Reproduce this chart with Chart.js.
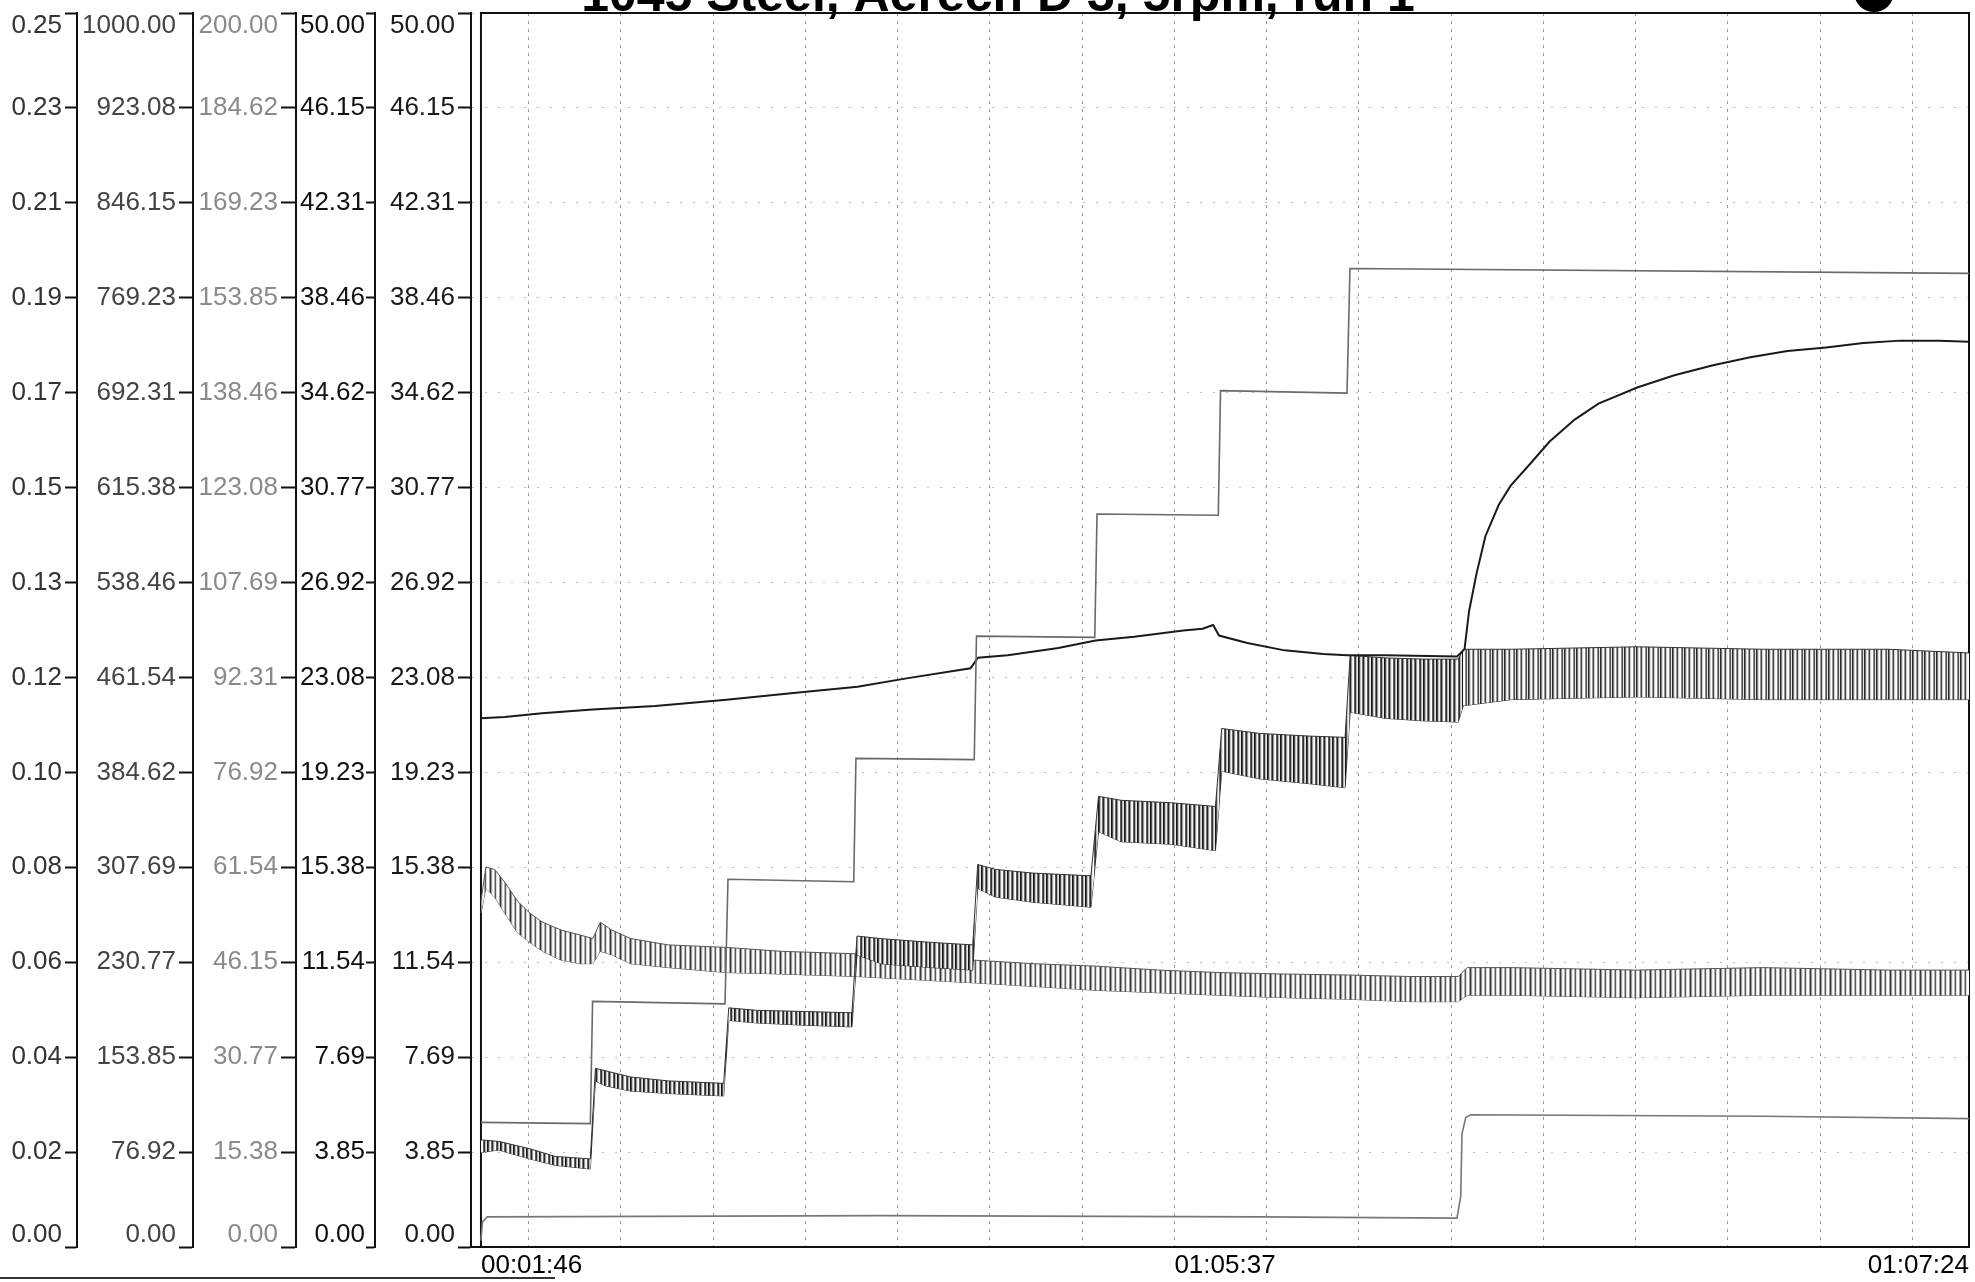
<!DOCTYPE html>
<html>
<head>
<meta charset="utf-8">
<title>1045 Steel, run 1</title>
<script src="https://cdn.jsdelivr.net/npm/chart.js"></script>
<style>
  body { margin: 0; background: #fff; overflow: hidden; }
  #wrap { position: relative; width: 1975px; height: 1282px; overflow: hidden; background: #fff; }
  #chart { position: absolute; left: -20px; top: 0; }
</style>
</head>
<body>
<div id="wrap"><canvas id="chart"></canvas></div>
<script>
const CHART = document.getElementById('chart');
CHART.width = 1995;
CHART.height = 1282;

// tick labels of the five stacked y axes (outermost first)
const muLabels    = ['0.00','0.02','0.04','0.06','0.08','0.10','0.12','0.13','0.15','0.17','0.19','0.21','0.23','0.25'];
const loadLabels  = ['0.00','76.92','153.85','230.77','307.69','384.62','461.54','538.46','615.38','692.31','769.23','846.15','923.08','1000.00'];
const tempLabels  = ['0.00','15.38','30.77','46.15','61.54','76.92','92.31','107.69','123.08','138.46','153.85','169.23','184.62','200.00'];
const forceLabels = ['0.00','3.85','7.69','11.54','15.38','19.23','23.08','26.92','30.77','34.62','38.46','42.31','46.15','50.00'];
const speedLabels = ['0.00','3.85','7.69','11.54','15.38','19.23','23.08','26.92','30.77','34.62','38.46','42.31','46.15','50.00'];

// time axis (sample index 0..1000)
const timeTicks  = [0, 500, 1000];
const timeLabels = ['00:01:46', '01:05:37', '01:07:24'];
const gridX = [32, 94, 156, 218, 280, 342, 404, 466, 528, 590, 652, 714, 776, 838, 900, 962];

// normal load, stepped
const loadX = [0, 73.5, 75, 164, 166, 250.5, 252, 331.5, 333, 412.5, 414, 495.5, 497, 582, 584, 1000];
const loadY = [101, 100, 199, 197, 298, 296, 396, 395, 495, 494, 594, 593, 694, 692, 793, 789];

// temperature
const tempX = [0, 16, 41, 75, 117, 165, 210, 253, 287, 329, 334, 354, 388, 413, 439, 472, 485, 492, 496, 515,
               540, 566, 582, 608, 656, 661, 664, 669, 675, 684, 692, 705, 718, 735, 751, 777, 802, 828, 853, 878,
               904, 929, 954, 980, 1000];
const tempY = [85.7, 85.9, 86.5, 87.1, 87.7, 88.7, 89.8, 90.8, 92.2, 93.8, 95.5, 95.9, 97.1, 98.3, 98.9, 99.9, 100.2, 100.8, 99.1, 97.9,
               96.7, 96.1, 95.9, 95.9, 95.7, 96.9, 103.0, 109.1, 115.2, 120.3, 123.4, 126.9, 130.5, 134.1, 136.7, 139.3, 141.3, 142.9, 144.2, 145.2,
               145.8, 146.5, 146.9, 146.9, 146.7];

// friction force, upper / lower envelope of the oscillation
const forceX  = [0, 11.8, 32.9, 49.8, 73.5, 76.9, 83.6, 100.5, 125.9, 163.1, 166.5, 185.1, 218.9, 249.3, 252.7, 269.6, 303.4, 330.5, 333.8, 345.7,
                 371, 409.9, 415, 430.2, 464, 493.6, 497.8, 523.2, 557, 580.7, 584.1, 607.7, 633.1, 656.8, 660.1, 692.3, 776.8, 861.3, 945.9, 1000];
const forceHi = [4.34, 4.28, 3.98, 3.67, 3.57, 7.24, 7.14, 6.89, 6.73, 6.63, 9.69, 9.59, 9.54, 9.49, 12.60, 12.49, 12.34, 12.24, 15.50, 15.30,
                 15.15, 15.04, 18.26, 18.10, 18.00, 17.85, 21.01, 20.81, 20.70, 20.65, 23.97, 23.87, 23.82, 23.82, 24.22, 24.22, 24.32, 24.22, 24.22, 24.07];
const forceLo = [3.83, 3.93, 3.57, 3.31, 3.16, 6.73, 6.53, 6.32, 6.22, 6.12, 9.18, 9.08, 8.98, 8.92, 11.83, 11.47, 11.32, 11.22, 14.53, 14.18,
                 13.97, 13.77, 16.83, 16.42, 16.32, 16.06, 19.28, 18.97, 18.77, 18.61, 21.67, 21.42, 21.32, 21.27, 21.93, 22.18, 22.29, 22.18, 22.18, 22.18];

// friction coefficient, upper / lower envelope
const muX  = [0, 3.3, 9.2, 16, 24.5, 32.9, 41.4, 54, 66.7, 75.2, 80.2, 87.9, 100.5, 125.9, 164.8, 202, 252.7, 295, 332.2, 371,
              413.3, 455.6, 496.1, 540.1, 582.4, 624.6, 656.8, 662.7, 692.3, 776.8, 861.3, 945.9, 1000];
const muHi = [0.0701, 0.0770, 0.0765, 0.0739, 0.0701, 0.0676, 0.0658, 0.0642, 0.0632, 0.0625, 0.0658, 0.0642, 0.0625, 0.0612, 0.0607, 0.0599, 0.0594, 0.0586, 0.0581, 0.0574,
              0.0569, 0.0561, 0.0556, 0.0553, 0.0551, 0.0548, 0.0548, 0.0566, 0.0566, 0.0561, 0.0566, 0.0561, 0.0561];
const muLo = [0.0676, 0.0727, 0.0709, 0.0676, 0.0637, 0.0617, 0.0599, 0.0581, 0.0574, 0.0574, 0.0599, 0.0592, 0.0574, 0.0566, 0.0556, 0.0553, 0.0548, 0.0541, 0.0535, 0.0528,
              0.0520, 0.0515, 0.0510, 0.0505, 0.0502, 0.0497, 0.0497, 0.0510, 0.0510, 0.0505, 0.0510, 0.0510, 0.0510];

// rotation speed
const speedX = [0, 1, 4.2, 269.6, 523.2, 655.9, 658.4, 659.3, 661.8, 665.2, 861.3, 1000];
const speedY = [0.26, 1.02, 1.22, 1.27, 1.22, 1.17, 2.04, 4.59, 5.25, 5.36, 5.30, 5.20];

const FONT = "'Liberation Sans', Arial, sans-serif";
Chart.defaults.font.family = FONT;

function pts(xs, ys) {
  return xs.map((x, i) => ({ x: x, y: ys[i] }));
}

// vertical hatch used to fill the oscillating traces
function stripes(shades) {
  const tile = document.createElement('canvas');
  tile.width = shades.length;
  tile.height = 1;
  const t = tile.getContext('2d');
  shades.forEach((s, i) => { t.fillStyle = s; t.fillRect(i, 0, 1, 1); });
  return CHART.getContext('2d').createPattern(tile, 'repeat');
}

// end labels sit inside the axis, like the bracketed ends of the printout
function endLabel(labels, i) {
  if (i === labels.length - 1) return ['', labels[i]];
  if (i === 0) return [labels[i], ''];
  return labels[i];
}

function yAxis(labels, max, width, weight, color, tick, pad, grid) {
  return {
    type: 'linear',
    position: 'left',
    min: 0,
    max: max,
    weight: weight,
    afterBuildTicks: s => {
      s.ticks = labels.map((_, i) => ({ value: max * i / (labels.length - 1) }));
    },
    afterFit: s => {
      s.width = width;
      s.paddingTop = 0;
      s.paddingBottom = 0;
    },
    ticks: {
      autoSkip: false,
      padding: pad,
      color: color,
      font: { size: 26, lineHeight: 0.95 },
      callback: (v, i) => endLabel(labels, i)
    },
    grid: {
      drawOnChartArea: grid,
      color: '#bdbdbd',
      lineWidth: 1,
      tickColor: '#111',
      tickWidth: 2,
      tickLength: tick,
      tickBorderDash: []
    },
    border: { display: true, color: '#111', width: 2, dash: [2, 11] }
  };
}

const frame = {
  id: 'frame',
  beforeDatasetsDraw(chart) {
    const { ctx, chartArea: a, scales } = chart;
    const x0 = scales.x.getPixelForValue(0);
    ctx.save();
    ctx.strokeStyle = '#111';
    ctx.lineWidth = 2;
    ctx.beginPath();
    ctx.moveTo(x0, a.bottom);
    ctx.lineTo(x0, a.top);
    ctx.lineTo(a.right, a.top);
    ctx.lineTo(a.right, a.bottom);
    ctx.stroke();
    ctx.restore();
  },
  afterDraw(chart) {
    const ctx = chart.ctx;
    ctx.save();
    // header, printed partly off the top of the sheet
    ctx.fillStyle = '#000';
    ctx.font = 'bold 50px ' + FONT;
    ctx.textAlign = 'center';
    ctx.textBaseline = 'alphabetic';
    ctx.fillText('1045 Steel, Aerech D 3, 5rpm, run 1', 1018, 11);
    ctx.beginPath();
    ctx.arc(1894, -8, 20, 0, Math.PI * 2);
    ctx.fill();
    // rule under the axis block
    ctx.strokeStyle = '#333';
    ctx.lineWidth = 2;
    ctx.beginPath();
    ctx.moveTo(20, 1278);
    ctx.lineTo(575, 1278);
    ctx.stroke();
    ctx.restore();
  }
};

const heavy = stripes(['#151515', '#4a4a4a', '#c4c4c4', '#f2f2f2', '#6e6e6e', '#262626', '#9a9a9a', '#ececec', '#ffffff', '#5c5c5c', '#303030', '#b6b6b6', '#e6e6e6']);
const medium = stripes(['#2a2a2a', '#7a7a7a', '#dddddd', '#ffffff', '#999999', '#444444', '#cfcfcf', '#f7f7f7', '#ffffff', '#8a8a8a', '#555555', '#e0e0e0']);
const light = stripes(['#383838', '#9a9a9a', '#e9e9e9', '#ffffff', '#b0b0b0', '#5a5a5a', '#dadada', '#ffffff', '#ffffff', '#a0a0a0']);

let chart = new Chart(CHART, {
  type: 'line',
  data: {
    datasets: [
      { label: 'Load', data: pts(loadX, loadY), yAxisID: 'yLoad', borderColor: '#6a6a6a', borderWidth: 1.6 },
      { label: 'Temperature', data: pts(tempX, tempY), yAxisID: 'yTemp', borderColor: '#1a1a1a', borderWidth: 2 },
      { label: 'Friction force', data: pts(forceX, forceHi), yAxisID: 'yForce', borderColor: '#333', borderWidth: 1,
        fill: '+1', backgroundColor: heavy,
        segment: { backgroundColor: c => c.p0.parsed.x >= 660 ? medium : undefined } },
      { label: 'Friction force min', data: pts(forceX, forceLo), yAxisID: 'yForce', borderColor: '#333', borderWidth: 1 },
      { label: 'Friction coefficient', data: pts(muX, muHi), yAxisID: 'yMu', borderColor: '#555', borderWidth: 1,
        fill: '+1', backgroundColor: light },
      { label: 'Friction coefficient min', data: pts(muX, muLo), yAxisID: 'yMu', borderColor: '#555', borderWidth: 1 },
      { label: 'Speed', data: pts(speedX, speedY), yAxisID: 'ySpeed', borderColor: '#777', borderWidth: 1.6 }
    ]
  },
  options: {
    responsive: false,
    animation: false,
    devicePixelRatio: 1,
    events: [],
    layout: { padding: { top: 13, right: 5, left: 0, bottom: 0 } },
    elements: { point: { radius: 0 }, line: { tension: 0 } },
    plugins: { legend: { display: false }, tooltip: { enabled: false }, title: { display: false } },
    scales: {
      x: {
        type: 'linear',
        min: -6.7,
        max: 1000,
        afterBuildTicks: s => {
          const vals = gridX.concat(timeTicks).sort((a, b) => a - b);
          s.ticks = vals.map(v => ({ value: v }));
        },
        afterFit: s => { s.height = 35; },
        ticks: {
          autoSkip: false,
          maxRotation: 0,
          align: 'inner',
          padding: 6,
          color: '#000',
          font: { size: 26, lineHeight: 1 },
          callback: v => {
            const k = timeTicks.indexOf(v);
            return k < 0 ? '' : timeLabels[k];
          }
        },
        grid: {
          drawTicks: false,
          lineWidth: 1,
          color: c => gridX.includes(c.tick.value) ? '#9a9a9a' : 'rgba(0,0,0,0)'
        },
        border: { display: true, color: '#111', width: 2, dash: [3, 5] }
      },
      yMu:    yAxis(muLabels, 0.25, 97, 5, '#333', 12, 3, true),
      yLoad:  yAxis(loadLabels, 1000, 116, 4, '#444', 14, 3, false),
      yTemp:  yAxis(tempLabels, 200, 103, 3, '#8a8a8a', 15, 3, false),
      yForce: yAxis(forceLabels, 50, 79, 2, '#111', 9, 1, false),
      ySpeed: yAxis(speedLabels, 50, 96, 1, '#1a1a1a', 13, 3, false)
    }
  },
  plugins: [frame]
});
</script>
</body>
</html>
